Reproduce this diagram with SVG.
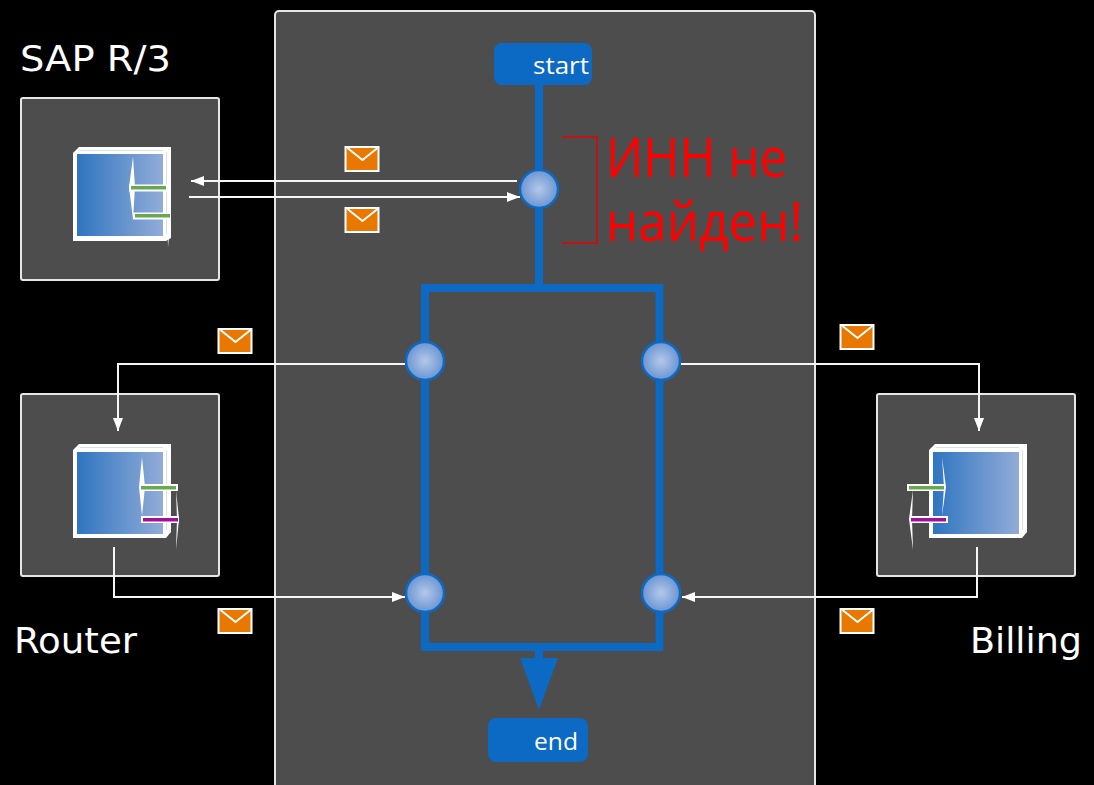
<svg xmlns="http://www.w3.org/2000/svg" width="1094" height="785" viewBox="0 0 1094 785">
<style>
.panel{fill:#4d4d4d;stroke:#e6e6e6;stroke-width:2}
.flow{fill:none;stroke:#0c69c4;stroke-width:8;stroke-linejoin:miter;stroke-linecap:square}
.wire{fill:none;stroke:#f6f6f6;stroke-width:2}
.node{fill:url(#ball);stroke:#0c69c4;stroke-width:2.5}
.txt{font-family:"DejaVu Sans",sans-serif;fill:#fff}
.lbl{font-family:"Open Sans",sans-serif;fill:#fff;font-size:24px}
.pill{fill:#0c69c4}
.env{fill:#e97800;stroke:#fff;stroke-width:2}
.flap{fill:none;stroke:#fff;stroke-width:2}
.edge{fill:#fff}
.hint{fill:none;stroke:#d5e1f2;stroke-width:1}
</style>
<defs>
<radialGradient id="ball"><stop offset="0" stop-color="#b4c8e8"/><stop offset="1" stop-color="#6b95d3"/></radialGradient>
<linearGradient id="blue"><stop offset="0" stop-color="#2f75c0"/><stop offset="1" stop-color="#92acd8"/></linearGradient>
<marker id="arr" markerUnits="userSpaceOnUse" markerWidth="14" markerHeight="10" refX="13" refY="5" orient="auto"><path d="M0 0L13 5L0 10z" fill="#fff"/></marker>
<symbol id="mail" overflow="visible"><rect class="env" x="1" y="1" width="33" height="24"/><path class="flap" d="M3 2L18 14L33 2"/></symbol>
</defs>
<rect width="1094" height="785" fill="#000"/>
<g id="process"><rect class="panel" x="275" y="11" width="540" height="790" rx="4"/></g>
<g id="sap">
<rect class="panel" x="21" y="98" width="198" height="182" rx="2"/>
<text class="txt" x="20" y="71" font-size="36" textLength="151" lengthAdjust="spacingAndGlyphs">SAP R/3</text>
<path class="edge" d="M73 153L79 147H171V238L166 241H73z"/>
<rect x="77" y="154" width="86" height="82" fill="url(#blue)"/>
<path class="hint" d="M80 150.500H163M166.500 152V234"/>
<path class="edge" d="M133 157L129 187L133 219L135 187zM167 205L171 215L168 247z"/>
<rect x="129" y="184.500" width="38" height="7" fill="#fff"/><rect x="131" y="186" width="35" height="3.500" fill="#6aa84f"/>
<rect x="133" y="212.500" width="38" height="7" fill="#fff"/><rect x="135" y="214" width="35" height="3.500" fill="#6aa84f"/>
</g>
<g id="router">
<rect class="panel" x="21" y="394" width="198" height="182" rx="2"/>
<text class="txt" x="14" y="653" font-size="36" textLength="123" lengthAdjust="spacingAndGlyphs">Router</text>
<path class="edge" d="M73 450L79 444H171V532L166 538H73z"/>
<rect x="77" y="452" width="86" height="82" fill="url(#blue)"/>
<path class="hint" d="M80 447.500H163M166.500 450V530"/>
<path class="edge" d="M142 457L139 487L142 516L145 487zM176 490L179 519L176 550L177 519z"/>
<rect x="140" y="484" width="38" height="7" fill="#fff"/><rect x="141" y="486" width="35" height="3.500" fill="#6aa84f"/>
<rect x="141" y="516" width="38" height="7" fill="#fff"/><rect x="143" y="518" width="35" height="3.500" fill="#a0109a"/>
</g>
<g id="billing">
<rect class="panel" x="877" y="394" width="198" height="182" rx="2"/>
<text class="txt" x="970" y="653" font-size="36" textLength="112" lengthAdjust="spacingAndGlyphs">Billing</text>
<path class="edge" d="M929 450L935 444H1027V532L1022 538H929z"/>
<rect x="933" y="452" width="86" height="82" fill="url(#blue)"/>
<path class="hint" d="M936 447.500H1019M1022.500 450V530"/>
<path class="edge" d="M942 457L946 487L942 516L944 487zM913 490L909 519L913 550L912 519z"/>
<rect x="907" y="484" width="38" height="7" fill="#fff"/><rect x="909" y="486" width="35" height="3.500" fill="#6aa84f"/>
<rect x="910" y="516" width="38" height="7" fill="#fff"/><rect x="911" y="518" width="35" height="3.500" fill="#a0109a"/>
</g>
<g id="connectors">
<path class="flow" d="M539 85V288" style="stroke-linecap:butt"/>
<path class="flow" d="M425 288H659.500V647H425z"/>
<path class="flow" d="M539 647V662" style="stroke-linecap:butt"/>
<path d="M520 658H558L539 710z" fill="#0c69c4"/>
<path class="wire" d="M517 181H191" marker-end="url(#arr)"/>
<path class="wire" d="M189 197H520" marker-end="url(#arr)"/>
<path class="wire" d="M405 364H118V431" marker-end="url(#arr)"/>
<path class="wire" d="M680 364H979V431" marker-end="url(#arr)"/>
<path class="wire" d="M114 547V597H405" marker-end="url(#arr)"/>
<path class="wire" d="M977 547V597H682" marker-end="url(#arr)"/>
<path d="M562 137H597V243H562" fill="none" stroke="#e60000" stroke-width="1.500"/>
</g>
<g id="start"><rect class="pill" x="494" y="43" width="98" height="42" rx="8"/><text class="lbl" x="533" y="74" textLength="56" lengthAdjust="spacingAndGlyphs">start</text></g>
<g id="end"><rect class="pill" x="488" y="718" width="100" height="44" rx="8"/><text class="lbl" x="534" y="750" textLength="44" lengthAdjust="spacingAndGlyphs">end</text></g>
<g id="node-top"><circle class="node" cx="539" cy="189" r="19"/></g>
<g id="node-left-top"><circle class="node" cx="425" cy="361" r="19"/></g>
<g id="node-right-top"><circle class="node" cx="661" cy="361" r="19"/></g>
<g id="node-left-bottom"><circle class="node" cx="425" cy="593" r="19"/></g>
<g id="node-right-bottom"><circle class="node" cx="661" cy="593" r="19"/></g>
<g id="messages">
<use href="#mail" x="344.500" y="146"/><use href="#mail" x="344.500" y="207"/>
<use href="#mail" x="217.500" y="328"/><use href="#mail" x="839.500" y="324"/>
<use href="#mail" x="217.500" y="608"/><use href="#mail" x="839.500" y="608"/>
</g>
<g id="note" font-family="'Open Sans',sans-serif" font-size="54" fill="#f00">
<text x="606" y="177" textLength="181" lengthAdjust="spacingAndGlyphs">ИНН не</text><text x="606" y="241" textLength="197" lengthAdjust="spacingAndGlyphs">найден!</text>
</g>
</svg>
